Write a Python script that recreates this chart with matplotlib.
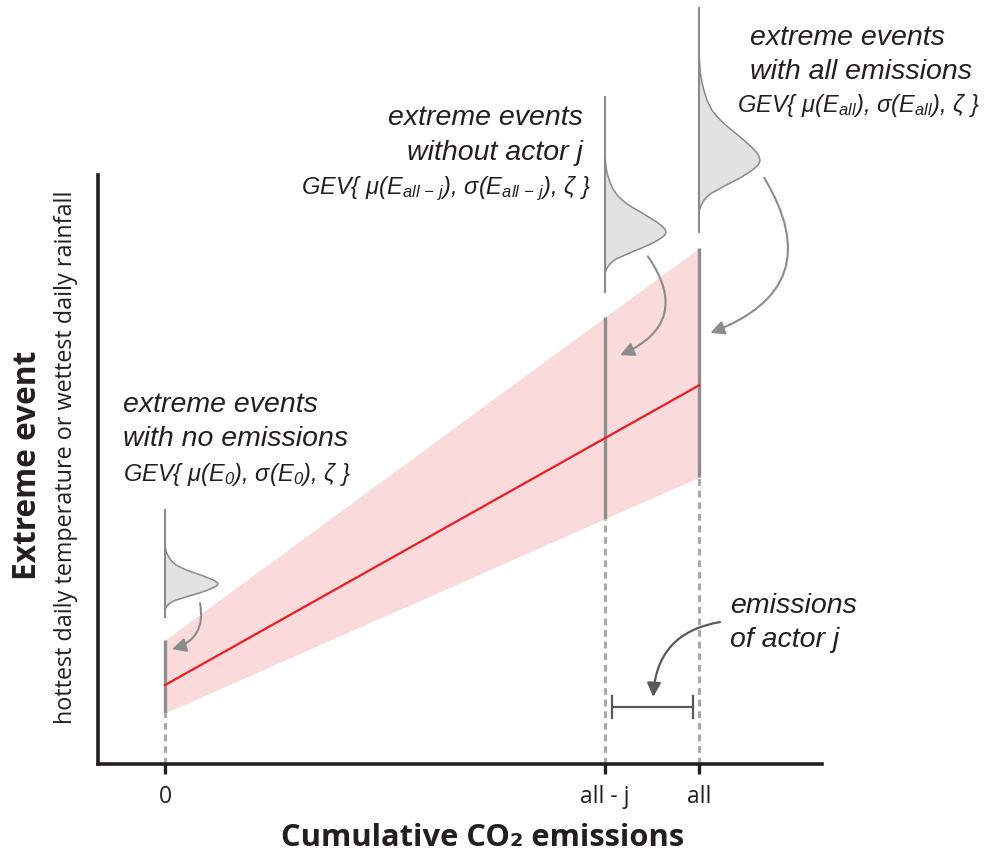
import matplotlib
matplotlib.use('Agg')
import matplotlib.pyplot as plt
import numpy as np

# 横轴：累计排放（all = 1）
x_ticks = [0.0, 0.824, 1.0]
x_tick_labels = ['0', 'all - j', 'all']

# 红线（均值）与粉色带（上下界），取值于 x = 0 与 x = all
line_y = [1.34, 6.43]
band_upper = [2.105, 8.76]
band_lower = [0.866, 4.87]

# 三个 GEV 分布：位置、峰值、上下展开、宽度、基线范围
dist_x = [0.0, 0.824, 1.0]
dist_peak = [3.06, 9.03, 10.25]
dist_up = [0.70, 1.34, 1.87]
dist_down = [0.44, 0.70, 0.88]
dist_width = [0.099, 0.114, 0.114]
dist_base_bottom = [2.50, 8.01, 9.03]
dist_base_top = [4.31, 11.32, 12.84]

# 分布形状（由图上读取，峰值为 1）
up_t = [0, 0.04, 0.08, 0.12, 0.18, 0.245, 0.29, 0.336, 0.40, 0.455, 0.545,
        0.62, 0.70, 0.76, 0.82, 0.90, 1.0]
up_d = [1.0, 0.98, 0.93, 0.86, 0.74, 0.60, 0.50, 0.40, 0.29, 0.21, 0.13,
        0.085, 0.05, 0.03, 0.015, 0.005, 0]
dn_t = [0, 0.07, 0.135, 0.19, 0.25, 0.32, 0.385, 0.45, 0.52, 0.58, 0.635,
        0.70, 0.77, 0.84, 0.90, 0.95, 1.0]
dn_d = [1.0, 0.98, 0.93, 0.87, 0.80, 0.70, 0.60, 0.49, 0.38, 0.29, 0.20,
        0.13, 0.08, 0.045, 0.02, 0.007, 0]

# 箭头：起点、终点、弯曲度
arrow_start = [(0.0655, 2.73), (0.904, 8.62), (1.122, 9.95)]
arrow_end = [(0.013, 1.95), (0.852, 6.94), (1.021, 7.32)]
arrow_rad = [-0.45, -0.6, -0.6]

# 排放区间括号
bracket_x = [0.837, 0.989]
bracket_y = 0.97
emis_arrow_start = (1.039, 2.41)
emis_arrow_end = (0.914, 1.14)

TXT = '#231f20'
GRAY = '#8c8c8c'
RED = '#ed1c24'
PINK = '#fadada'
FILL = '#e1e3e3'

plt.rcParams['mathtext.fontset'] = 'custom'
plt.rcParams['mathtext.rm'] = 'Liberation Sans:italic'
plt.rcParams['mathtext.it'] = 'Liberation Sans:italic'

fig = plt.figure(figsize=(9.95, 8.57), dpi=100)
ax = fig.add_axes([98 / 995, 93 / 857, 724 / 995, 589 / 857])
ax.set_xlim(-0.1255, 1.230)
ax.set_ylim(0, 10)

for side in ['top', 'right']:
    ax.spines[side].set_visible(False)
for side in ['left', 'bottom']:
    ax.spines[side].set_linewidth(2.6)
    ax.spines[side].set_color(TXT)
ax.set_yticks([])
ax.set_xticks(x_ticks)
ax.set_xticklabels(x_tick_labels, fontsize=16.5, family='Open Sans', color=TXT)
ax.tick_params(axis='x', direction='out', length=7.5, width=2.4, color=TXT, pad=7.5)

# 粉色带和红线
xs = [0.0, 1.0]
ax.fill_between(xs, band_lower, band_upper, color=PINK, lw=0, zorder=1)

# 灰色竖线和虚线
for xv in dist_x:
    lo = np.interp(xv, xs, band_lower)
    hi = np.interp(xv, xs, band_upper)
    ax.plot([xv, xv], [lo, hi], color='#8e8e8e', lw=2.4, zorder=2,
            solid_capstyle='butt')
    ax.plot([xv, xv], [0, lo], color='#a8a8a8', lw=2.2, zorder=2,
            dashes=(2.2, 1.6))

ax.plot(xs, line_y, color=RED, lw=1.6, zorder=3)

# GEV 分布
for i in range(3):
    x0 = dist_x[i]
    ys = ([dist_peak[i] - dist_down[i] * t for t in dn_t[::-1]] +
          [dist_peak[i] + dist_up[i] * t for t in up_t[1:]])
    ds = dn_d[::-1] + up_d[1:]
    cx = [x0 + dist_width[i] * d for d in ds]
    ax.fill_betweenx(ys, x0, cx, color=FILL, lw=0, zorder=2, clip_on=False)
    ax.plot(cx, ys, color='#8a8a8a', lw=1.1, zorder=3, clip_on=False,
            solid_joinstyle='round')
    ax.plot([x0, x0], [dist_base_bottom[i], dist_base_top[i]],
            color='#8a8a8a', lw=1.5, zorder=3, clip_on=False)

for s, e, r in zip(arrow_start, arrow_end, arrow_rad):
    ax.annotate('', xy=e, xytext=s, annotation_clip=False,
                arrowprops=dict(arrowstyle='-|>,head_length=0.6,head_width=0.3',
                                connectionstyle=f'arc3,rad={r}', color=GRAY,
                                lw=1.5, mutation_scale=14, shrinkA=0, shrinkB=0))

# 括号
ax.plot(bracket_x, [bracket_y, bracket_y], color='#58595b', lw=1.6)
for bx in bracket_x:
    ax.plot([bx, bx], [bracket_y - 0.19, bracket_y + 0.19], color='#58595b', lw=1.6)
ax.annotate('', xy=emis_arrow_end, xytext=emis_arrow_start,
            arrowprops=dict(arrowstyle='-|>,head_length=0.6,head_width=0.3',
                            connectionstyle='arc3,rad=0.4', color='#58595b',
                            lw=1.6, mutation_scale=14, shrinkA=0, shrinkB=0))

# 文字
big = dict(family='Liberation Sans', style='italic', fontsize=20.5, color=TXT,
           va='baseline')
small = dict(family='Liberation Sans', style='italic', fontsize=17, color=TXT,
             va='baseline')


def txt(x, y, s, kw, ha='left'):
    ax.text(x, y, s, ha=ha, clip_on=False, **kw)


txt(-0.0787, 5.976, 'extreme events', big)
txt(-0.0787, 5.399, 'with no emissions', big)
txt(-0.0787, 4.805, 'GEV{ μ(E$_{0}$), σ(E$_{0}$), ζ }', small)

txt(0.783, 10.85, 'extreme events', big, ha='right')
txt(0.783, 10.25, 'without actor j', big, ha='right')
txt(0.796, 9.68, 'GEV{ μ(E$_{all\\,-\\,j}$), σ(E$_{all\\,-\\,j}$), ζ }', small,
    ha='right')

txt(1.0955, 12.21, 'extreme events', big)
txt(1.0955, 11.63, 'with all emissions', big)
txt(1.071, 11.07, 'GEV{ μ(E$_{all}$), σ(E$_{all}$), ζ }', small)

txt(1.058, 2.564, 'emissions', big)
txt(1.058, 1.986, 'of actor j', big)

fig.text(483 / 995, 1 - 838 / 857, 'Cumulative CO₂ emissions',
         family=['Open Sans', 'DejaVu Sans'], weight='bold', fontsize=22.2,
         color=TXT, ha='center', va='center')
fig.text(28 / 995, 1 - 465 / 857, 'Extreme event', family='Open Sans',
         weight='bold', fontsize=22.8, color=TXT, ha='center', va='center',
         rotation=90)
fig.text(66 / 995, 1 - 457 / 857,
         'hottest daily temperature or wettest daily rainfall',
         family='Open Sans', fontsize=16.8, color=TXT, ha='center', va='center',
         rotation=90)

fig.savefig('out.png', dpi=100)
